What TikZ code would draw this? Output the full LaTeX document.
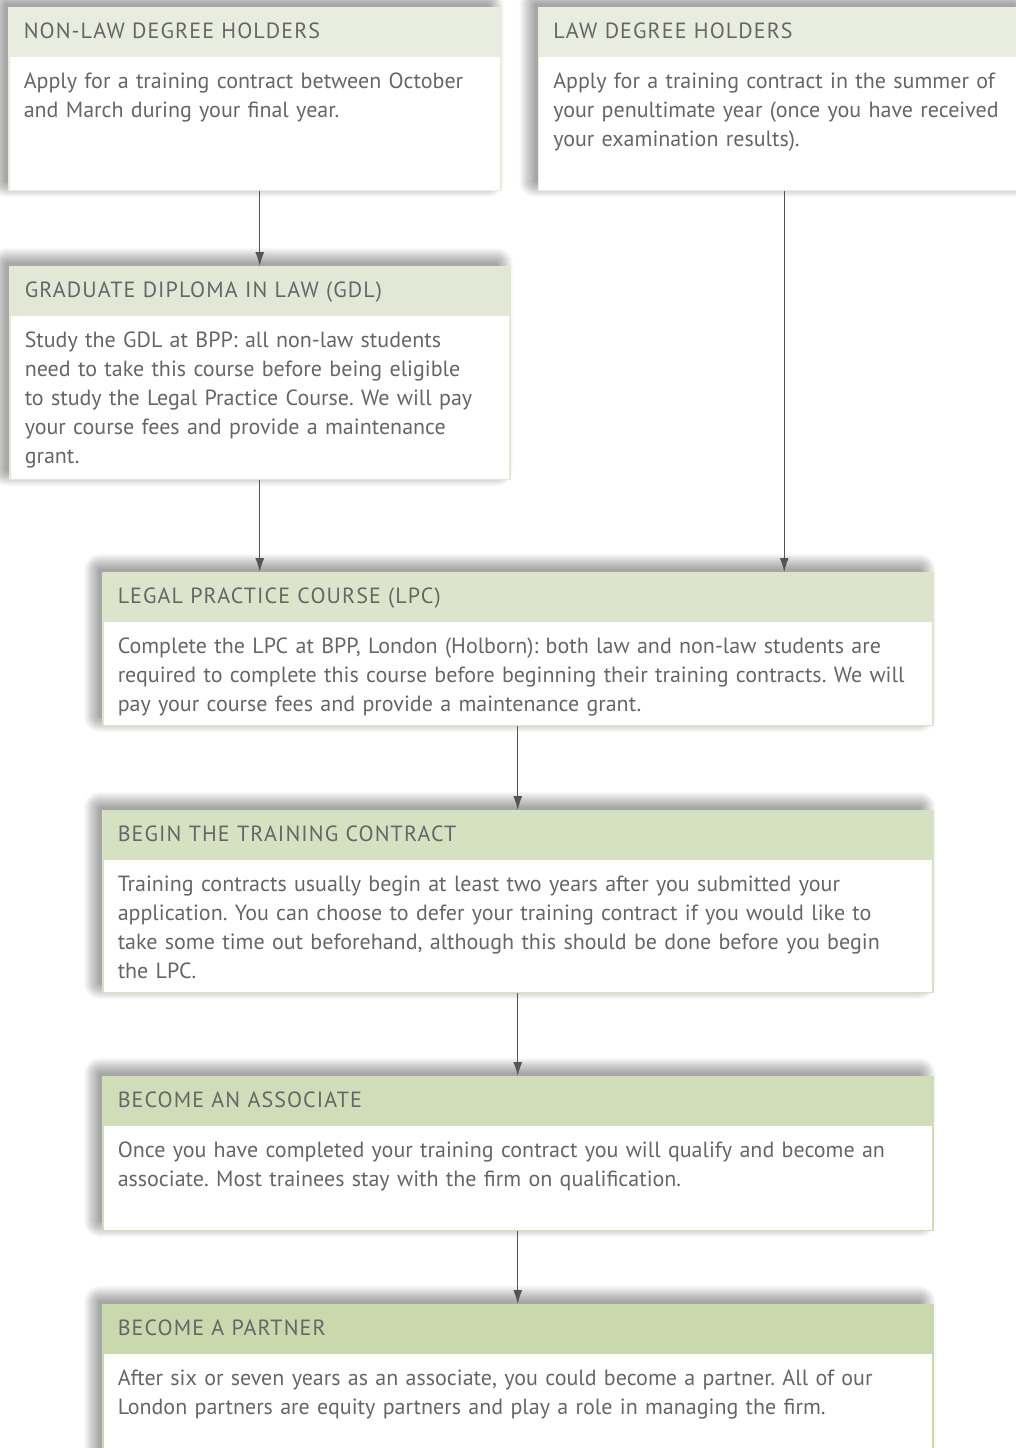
\documentclass[tikz,border=0pt]{standalone}
\usepackage{fontspec}
\setmainfont{PT Sans}
\newfontfamily\headfont[LetterSpace=5]{PT Sans}
\usetikzlibrary{positioning,arrows.meta,calc}
\pgfdeclarelayer{bg}
\pgfsetlayers{bg,main}

\definecolor{txtgrey}{HTML}{666666}
\definecolor{arrowgrey}{HTML}{555555}
\definecolor{hdrA}{HTML}{E9EDDF}
\definecolor{hdrB}{HTML}{E2E8D5}
\definecolor{hdrC}{HTML}{DCE5CC}
\definecolor{hdrD}{HTML}{D6E1C2}
\definecolor{hdrE}{HTML}{D0DDB8}
\definecolor{hdrF}{HTML}{C9D8AD}

% soft shadow behind a header/body pair
\newcommand{\boxshade}[2]{%
  \begin{pgfonlayer}{bg}
    \foreach \s in {1,...,16}
      \fill[black, opacity=0.022, rounded corners=\s pt]
        ($(#1.north west)+(-2-\s,-2-\s)$) rectangle ($(#2.south east)+(-14+\s,-10+\s)$);
  \end{pgfonlayer}}

\frenchspacing
\begin{document}
\begin{tikzpicture}[x=1pt, y=-1pt,
  headbox/.style 2 args={fill=#1, draw=#1, line width=1.5pt, text width=#2,
    minimum height=47pt, inner xsep=15pt, inner ysep=0pt, text height=15pt,
    text depth=0pt, align=left, text=txtgrey, font=\headfont\fontsize{22}{24}\selectfont},
  bodybox/.style 2 args={fill=white, draw=#1, line width=1.5pt, text width=#2,
    inner xsep=15pt, inner ysep=11pt, text height=21pt, align=left,
    text=txtgrey, font=\fontsize{22}{29}\selectfont},
  flow/.style={draw=arrowgrey, line width=1.2pt, -{Latex[length=14pt,width=9pt]}}]

  \begin{pgfonlayer}{bg}
    \fill[white] (0,0) rectangle (1015,1448);
  \end{pgfonlayer}
  \useasboundingbox (0,0) rectangle (1015,1448);

  % entry routes
  \node[headbox={hdrA}{462pt}, anchor=north west] (nonlaw-head) at (8,7)
    {NON-LAW DEGREE HOLDERS};
  \node[bodybox={hdrA}{462pt}, text depth=91pt, below=0pt of nonlaw-head] (nonlaw)
    {Apply for a training contract between October\\
     and March during your final year.};

  \node[headbox={hdrA}{462pt}, right=36pt of nonlaw-head.north east, anchor=north west] (law-head)
    {LAW DEGREE HOLDERS};
  \node[bodybox={hdrA}{462pt}, text depth=91pt, below=0pt of law-head] (law)
    {Apply for a training contract in the summer of\\
     your penultimate year (once you have received\\
     your examination results).};

  % GDL
  \node[headbox={hdrB}{470pt}, below right=75pt and 1pt of nonlaw.south west, anchor=north west] (gdl-head)
    {GRADUATE DIPLOMA IN LAW (GDL)};
  \node[bodybox={hdrB}{470pt}, text depth=121pt, below=0pt of gdl-head] (gdl)
    {Study the GDL at BPP: all non-law students\\
     need to take this course before being eligible\\
     to study the Legal Practice Course. We will pay\\
     your course fees and provide a maintenance\\
     grant.};

  % LPC
  \node[headbox={hdrC}{800pt}, below right=92pt and 93pt of gdl.south west, anchor=north west] (lpc-head)
    {LEGAL PRACTICE COURSE (LPC)};
  \node[bodybox={hdrC}{800pt}, text depth=61pt, below=0pt of lpc-head] (lpc)
    {Complete the LPC at BPP, London (Holborn): both law and non-law students are\\
     required to complete this course before beginning their training contracts. We will\\
     pay your course fees and provide a maintenance grant.};

  % training contract
  \node[headbox={hdrD}{800pt}, below=84pt of lpc] (train-head)
    {BEGIN THE TRAINING CONTRACT};
  \node[bodybox={hdrD}{800pt}, text depth=90pt, below=0pt of train-head] (train)
    {Training contracts usually begin at least two years after you submitted your\\
     application. You can choose to defer your training contract if you would like to\\
     take some time out beforehand, although this should be done before you begin\\
     the LPC.};

  % associate
  \node[headbox={hdrE}{800pt}, below=83pt of train] (assoc-head)
    {BECOME AN ASSOCIATE};
  \node[bodybox={hdrE}{800pt}, text depth=62pt, below=0pt of assoc-head] (assoc)
    {Once you have completed your training contract you will qualify and become an\\
     associate. Most trainees stay with the firm on qualification.};

  % partner
  \node[headbox={hdrF}{800pt}, below=73pt of assoc] (partner-head)
    {BECOME A PARTNER};
  \node[bodybox={hdrF}{800pt}, text depth=91pt, below=0pt of partner-head] (partner)
    {After six or seven years as an associate, you could become a partner. All of our\\
     London partners are equity partners and play a role in managing the firm.};

  \boxshade{nonlaw-head}{nonlaw}
  \boxshade{law-head}{law}
  \boxshade{gdl-head}{gdl}
  \boxshade{lpc-head}{lpc}
  \boxshade{train-head}{train}
  \boxshade{assoc-head}{assoc}
  \boxshade{partner-head}{partner}

  % connectors
  \draw[flow] (gdl-head.north |- nonlaw.south) -- (gdl-head.north);
  \draw[flow] (gdl.south) -- (gdl.south |- lpc-head.north);
  \draw[flow] (law.south) -- (law.south |- lpc-head.north);
  \draw[flow] (lpc.south) -- (train-head.north);
  \draw[flow] (train.south) -- (assoc-head.north);
  \draw[flow] (assoc.south) -- (partner-head.north);

\end{tikzpicture}
\end{document}
